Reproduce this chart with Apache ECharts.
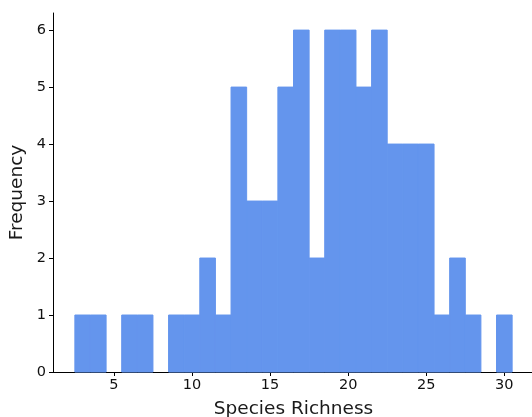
<!DOCTYPE html>
<html>
<head>
<meta charset="utf-8">
<script src="https://cdn.jsdelivr.net/npm/echarts@6/dist/echarts.min.js"></script>
<style>html,body{margin:0;padding:0;background:#fff;}#c{width:532px;height:417px;}</style>
</head>
<body>
<div id="c"></div>
<script>
// Histogram bins (centers) and frequencies
const binCenters = [3,4,5,6,7,8,9,10,11,12,13,14,15,16,17,18,19,20,21,22,23,24,25,26,27,28,29,30];
const frequencies = [1,1,0,1,1,0,1,1,2,1,5,3,3,5,6,2,6,6,5,6,4,4,4,1,2,1,0,1];
const xTicks = [5,10,15,20,25,30];
const yTicks = [0,1,2,3,4,5,6];
const binWidth = 1;

const data = binCenters.map((c,i)=>[c, frequencies[i]]).filter(d=>d[1]>0);
const chart = echarts.init(document.getElementById('c'));
const font = 'DejaVu Sans';
chart.setOption({
  animation:false,
  grid:{left:53, right:-2, top:13, bottom:45, containLabel:false, outerBoundsMode:'none'},
  xAxis:{
    type:'value', min:1.1, max:31.9,
    name:'Species Richness', nameLocation:'middle', nameGap:28,
    nameTextStyle:{fontFamily:font, fontSize:18.5, color:'#1a1a1a'},
    splitLine:{show:false},
    axisLine:{show:true, onZero:false, lineStyle:{color:'#000', width:1}},
    axisTick:{show:true, length:4, lineStyle:{color:'#000'}, customValues:xTicks},
    axisLabel:{fontFamily:font, fontSize:14.5, color:'#111', margin:6, customValues:xTicks}
  },
  yAxis:{
    type:'value', min:0, max:6.3,
    name:'Frequency', nameLocation:'middle', nameGap:26, nameMoveOverlap:false,
    nameTextStyle:{fontFamily:font, fontSize:18.5, color:'#1a1a1a'},
    splitLine:{show:false},
    axisLine:{show:true, lineStyle:{color:'#000', width:1}},
    axisTick:{show:true, length:4, lineStyle:{color:'#000'}, customValues:yTicks},
    axisLabel:{fontFamily:font, fontSize:14.5, color:'#111', margin:7, customValues:yTicks}
  },
  series:[{
    type:'custom',
    data:data,
    renderItem:function(params, api){
      const c = api.value(0), h = api.value(1);
      const p0 = api.coord([c - binWidth/2, h]);
      const p1 = api.coord([c + binWidth/2, 0]);
      return {type:'rect', shape:{x:p0[0], y:p0[1], width:p1[0]-p0[0], height:p1[1]-p0[1]},
        style:{fill:'#6495ED', stroke:'#6495ED', lineWidth:1}};
    }
  }]
});
</script>
</body>
</html>
